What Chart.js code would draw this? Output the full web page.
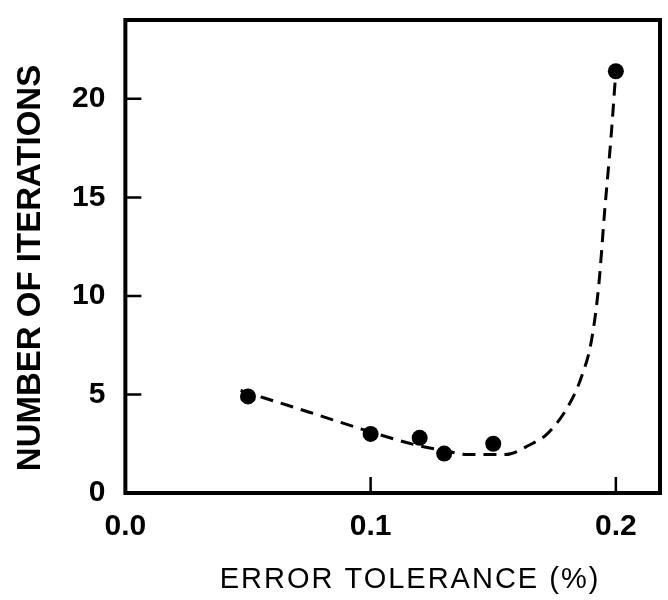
<!DOCTYPE html>
<html>
<head>
<meta charset="utf-8">
<script src="https://cdn.jsdelivr.net/npm/chart.js@4"></script>
<style>
  html, body { margin: 0; padding: 0; background: #fff; }
</style>
</head>
<body>
<canvas id="chart" width="668" height="600"></canvas>
<script>
// Measured points
var tolerance = [0.05, 0.10, 0.12, 0.13, 0.15, 0.20];
var iterations = [4.9, 3.0, 2.8, 2.0, 2.5, 21.4];

// Dashed trend curve
var curveX = [0.047, 0.075, 0.100, 0.118, 0.130, 0.140, 0.155, 0.165, 0.172, 0.181, 0.186, 0.190, 0.193, 0.1955, 0.198, 0.200];
var curveY = [5.2, 4.1, 3.1, 2.45, 2.15, 1.95, 1.95, 2.45, 3.0, 4.5, 5.9, 7.7, 10.5, 14.4, 18.0, 21.4];

// Tick labels
var xTicks = [0, 0.1, 0.2];
var yTicks = [0, 5, 10, 15, 20];

var FONT = '"Liberation Sans", Arial, Helvetica, sans-serif';

function pairs(xs, ys) {
  return xs.map(function(x, i) { return { x: x, y: ys[i] }; });
}

// Heavy frame, inward ticks and the two axis titles
var frame = {
  id: "frame",
  afterDraw: function(chart) {
    var ctx = chart.ctx;
    var a = chart.chartArea;
    var xs = chart.scales.x;
    var ys = chart.scales.y;
    ctx.save();
    ctx.strokeStyle = "#000";
    ctx.lineWidth = 4;
    ctx.strokeRect(a.left, a.top, a.right - a.left, a.bottom - a.top);

    ctx.lineWidth = 2.5;
    ctx.beginPath();
    yTicks.forEach(function(v) {
      if (v === 0) return;
      var py = ys.getPixelForValue(v);
      ctx.moveTo(a.left, py);
      ctx.lineTo(a.left + 16, py);
    });
    xTicks.forEach(function(v) {
      if (v === 0) return;
      var px = xs.getPixelForValue(v);
      ctx.moveTo(px, a.bottom);
      ctx.lineTo(px, a.bottom - 16);
    });
    ctx.stroke();

    ctx.fillStyle = "#000";
    ctx.textAlign = "center";
    ctx.textBaseline = "middle";
    ctx.font = "bold 33px " + FONT;
    ctx.translate(31, 268);
    ctx.rotate(-Math.PI / 2);
    ctx.fillText("NUMBER OF ITERATIONS", 0, 0);
    ctx.setTransform(1, 0, 0, 1, 0, 0);

    ctx.font = "29px " + FONT;
    ctx.letterSpacing = "2px";
    ctx.fillText("ERROR TOLERANCE (%)", 410, 580);
    ctx.restore();
  }
};

new Chart(document.getElementById("chart"), {
  type: "scatter",
  data: {
    datasets: [
      {
        label: "trend",
        data: pairs(curveX, curveY),
        showLine: true,
        borderColor: "#000",
        borderWidth: 3,
        borderDash: [13, 8],
        cubicInterpolationMode: "monotone",
        pointRadius: 0,
        fill: false
      },
      {
        label: "iterations",
        data: pairs(tolerance, iterations),
        pointRadius: 8,
        pointBackgroundColor: "#000",
        pointBorderColor: "#000",
        pointBorderWidth: 0
      }
    ]
  },
  options: {
    responsive: false,
    animation: false,
    layout: { padding: { top: 20, right: 4, left: 52, bottom: 39 } },
    plugins: {
      legend: { display: false },
      tooltip: { enabled: false }
    },
    scales: {
      x: {
        type: "linear",
        min: 0,
        max: 0.218,
        afterBuildTicks: function(s) {
          s.ticks = xTicks.map(function(v) { return { value: v }; });
        },
        afterFit: function(s) {
          s.paddingLeft = 0;
          s.paddingRight = 0;
        },
        ticks: {
          color: "#000",
          padding: 16,
          maxRotation: 0,
          autoSkip: false,
          font: { family: FONT, size: 30, weight: "bold" },
          callback: function(v) { return v.toFixed(1); }
        },
        grid: { display: false, drawTicks: false },
        border: { display: false }
      },
      y: {
        min: 0,
        max: 24,
        afterBuildTicks: function(s) {
          s.ticks = yTicks.map(function(v) { return { value: v }; });
        },
        afterFit: function(s) {
          s.paddingTop = 0;
          s.paddingBottom = 0;
        },
        ticks: {
          color: "#000",
          padding: 20,
          autoSkip: false,
          font: { family: FONT, size: 30, weight: "bold" }
        },
        grid: { display: false, drawTicks: false },
        border: { display: false }
      }
    }
  },
  plugins: [frame]
});
</script>
</body>
</html>
